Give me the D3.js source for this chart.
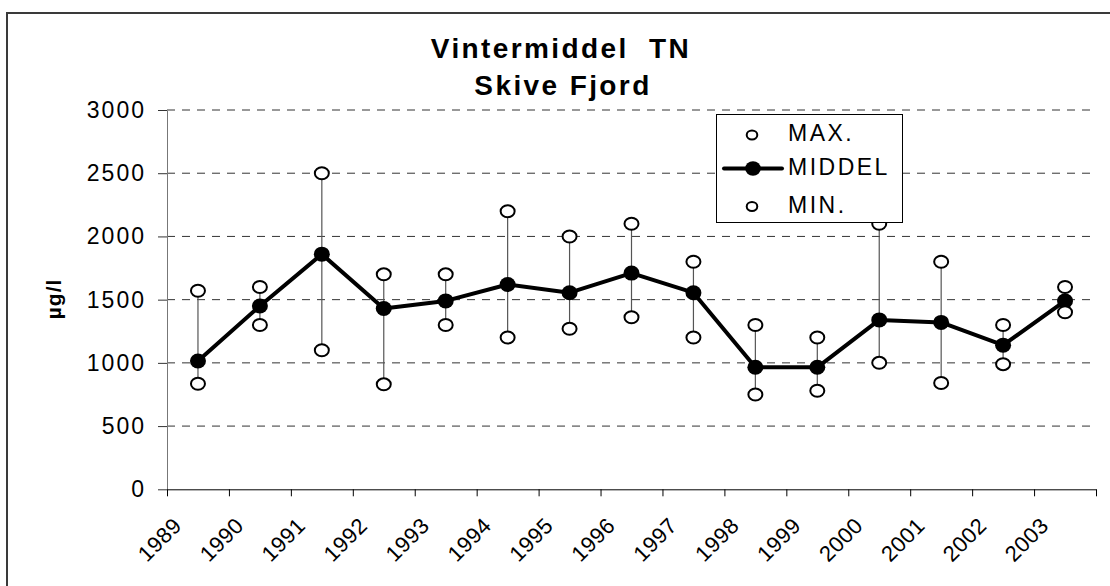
<!DOCTYPE html>
<html>
<head>
<meta charset="utf-8">
<script src="https://cdn.jsdelivr.net/npm/d3@7"></script>
<style>
  body { margin: 0; background: #fff; }
  svg text { font-family: "Liberation Sans", Arial, sans-serif; fill: #000; }
</style>
</head>
<body>
<svg id="chart" width="1110" height="586"></svg>
<script>
const width = 1110, height = 586;

// values
const years = ["1989", "1990", "1991", "1992", "1993", "1994", "1995", "1996",
               "1997", "1998", "1999", "2000", "2001", "2002", "2003"];
const maxVals  = [1570, 1600, 2500, 1700, 1700, 2200, 2000, 2100, 1800, 1300, 1200, 2100, 1800, 1300, 1600];
const meanVals = [1015, 1450, 1860, 1430, 1490, 1620, 1555, 1710, 1555, 965, 965, 1340, 1320, 1140, 1490];
const minVals  = [835, 1300, 1100, 830, 1300, 1200, 1270, 1360, 1200, 750, 780, 1000, 840, 990, 1400];
const yTicks = [0, 500, 1000, 1500, 2000, 2500, 3000];
const legendItems = ["MAX.", "MIDDEL", "MIN."];

let svg = d3.select("#chart").attr("viewBox", "0 0 " + width + " " + height);

// outer frame (runs off the right and bottom edge)
svg.append("rect")
  .attr("x", 7).attr("y", 13)
  .attr("width", 1200).attr("height", 700)
  .style("fill", "none")
  .style("stroke", "#3a3a3a")
  .style("stroke-width", 2);

const x = d3.scaleLinear()
  .domain([0, years.length])
  .range([167, 1096]);

const y = d3.scaleLinear()
  .domain([0, 3000])
  .range([489.3, 110]);

const cx = (d, i) => x(i + 0.5);

// dashed gridlines
svg.selectAll("grid")
  .data(yTicks.filter(d => d > 0))
  .enter()
  .append("line")
  .attr("x1", x(0)).attr("x2", x(years.length))
  .attr("y1", d => y(d)).attr("y2", d => y(d))
  .style("stroke", "#333")
  .style("stroke-width", 1)
  .style("stroke-dasharray", "8,7");

// y axis
const yAxis = svg.append("g")
  .attr("transform", "translate(" + x(0) + ",0)")
  .call(d3.axisLeft(y).tickValues(yTicks).tickFormat(d3.format("d"))
    .tickSize(9).tickSizeOuter(0).tickPadding(12));
yAxis.select(".domain").style("stroke", "#777");
yAxis.selectAll(".tick line").style("stroke", "#333");
yAxis.selectAll(".tick text")
  .style("font-size", "23px")
  .style("letter-spacing", "2px")
  .style("font-family", "Liberation Sans, Arial, sans-serif")
  .attr("fill", "#000");

// x axis, ticks at band edges
const xAxis = svg.append("g")
  .attr("transform", "translate(0," + y(0) + ")")
  .call(d3.axisBottom(x).tickValues(d3.range(years.length + 1)).tickSize(7).tickSizeOuter(0).tickFormat(""));
xAxis.select(".domain").style("stroke", "#000");
xAxis.selectAll(".tick line").style("stroke", "#000");

svg.selectAll("xlabels")
  .data(years)
  .enter()
  .append("text")
  .attr("transform", (d, i) => "translate(" + (x(i) + 16) + ",527) rotate(-45)")
  .attr("text-anchor", "end")
  .style("font-size", "22px")
  .style("letter-spacing", "0.5px")
  .text(d => d);

// y axis title
svg.append("text")
  .attr("transform", "translate(61,299) rotate(-90)")
  .attr("text-anchor", "middle")
  .style("font-size", "21px")
  .style("font-weight", "bold")
  .style("letter-spacing", "1px")
  .text("µg/l");

// title
svg.append("text")
  .attr("x", 561).attr("y", 58)
  .attr("text-anchor", "middle")
  .style("font-size", "28px")
  .style("font-weight", "bold")
  .style("letter-spacing", "2.4px")
  .style("white-space", "pre")
  .text("Vintermiddel  TN");
svg.append("text")
  .attr("x", 563).attr("y", 95)
  .attr("text-anchor", "middle")
  .style("font-size", "28px")
  .style("font-weight", "bold")
  .style("letter-spacing", "2.4px")
  .text("Skive Fjord");

// high-low lines
svg.selectAll("hilo")
  .data(years)
  .enter()
  .append("line")
  .attr("x1", cx).attr("x2", cx)
  .attr("y1", (d, i) => y(minVals[i]))
  .attr("y2", (d, i) => y(maxVals[i]))
  .style("stroke", "#555")
  .style("stroke-width", 1.2);

// mean line
svg.append("path")
  .datum(meanVals)
  .attr("d", d3.line().x((d, i) => x(i + 0.5)).y(d => y(d)))
  .style("fill", "none")
  .style("stroke", "#000")
  .style("stroke-width", 4)
  .style("stroke-linejoin", "round");

function openMarkers(vals) {
  svg.selectAll("none")
    .data(vals)
    .enter()
    .append("ellipse")
    .attr("cx", (d, i) => x(i + 0.5))
    .attr("cy", d => y(d))
    .attr("rx", 7).attr("ry", 6)
    .style("fill", "#fff")
    .style("stroke", "#000")
    .style("stroke-width", 2);
}

openMarkers(maxVals);

svg.selectAll("meandots")
  .data(meanVals)
  .enter()
  .append("ellipse")
  .attr("cx", (d, i) => x(i + 0.5))
  .attr("cy", d => y(d))
  .attr("rx", 8).attr("ry", 7.5)
  .style("fill", "#000");

openMarkers(minVals);

// legend
const legend = svg.append("g");
legend.append("rect")
  .attr("x", 716.5).attr("y", 114.5)
  .attr("width", 186).attr("height", 108)
  .style("fill", "#fff")
  .style("stroke", "#000")
  .style("stroke-width", 1);

const legendY = [135, 168.5, 206.5];

legend.append("line")
  .attr("x1", 724).attr("x2", 782)
  .attr("y1", legendY[1]).attr("y2", legendY[1])
  .style("stroke", "#000")
  .style("stroke-width", 4)
  .style("stroke-linecap", "round");

legend.selectAll("lmarks")
  .data(legendItems)
  .enter()
  .append("ellipse")
  .attr("cx", (d, i) => i == 1 ? 753 : 752)
  .attr("cy", (d, i) => legendY[i])
  .attr("rx", (d, i) => i == 1 ? 7.8 : 5.3)
  .attr("ry", (d, i) => i == 1 ? 7.3 : 4.4)
  .style("fill", (d, i) => i == 1 ? "#000" : "#fff")
  .style("stroke", "#000")
  .style("stroke-width", (d, i) => i == 1 ? 0 : 2);

legend.selectAll("ltext")
  .data(legendItems)
  .enter()
  .append("text")
  .attr("x", 788)
  .attr("y", (d, i) => legendY[i] + 6)
  .style("font-size", "23px")
  .style("letter-spacing", "2.5px")
  .text(d => d);
</script>
</body>
</html>
